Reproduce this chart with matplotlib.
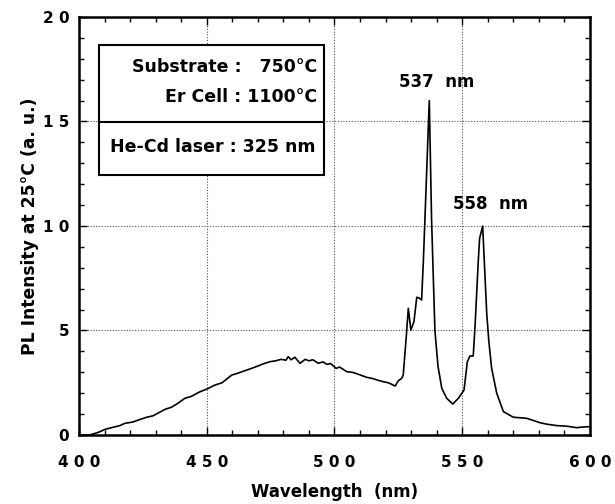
import matplotlib
matplotlib.use("Agg")
import matplotlib.pyplot as plt
from matplotlib.patches import Rectangle
from matplotlib.ticker import MultipleLocator

plt.rcParams['font.family'] = ['DejaVu Sans']
plt.rcParams['font.weight'] = 'bold'

wavelength = [400, 404, 405.6, 408, 410.2, 413, 416, 418, 421, 424, 426.5, 429, 431, 433.7, 436,
              438.5, 441.5, 444, 447, 450.6, 453, 456, 459.8, 462, 465, 467.6, 470, 472, 474.8,
              477, 479, 481, 481.9, 483, 484.5, 486.5, 488.5, 490, 491.5, 493.7, 495.5, 497,
              498.5, 500.6, 502, 504.8, 507, 509, 512.6, 515, 517, 519.1, 521, 522.5, 523.7,
              525, 526.3, 526.9, 528, 528.9, 529.9, 531.1, 532.2, 533.2, 534.1, 534.8, 535.6,
              537.1, 538.0, 539.3, 540.5, 542, 543.9, 546.3, 548.5, 550.7, 552, 553, 554.3, 555,
              556.3, 556.8, 558, 558.6, 559.6, 560.4, 561.5, 563.5, 566.1, 570, 575.2, 580.4,
              583, 587, 591, 594.8, 597, 600]
intensity = [0, 0, 0.05, 0.15, 0.27, 0.36, 0.45, 0.56, 0.62, 0.75, 0.85, 0.92, 1.05, 1.23, 1.32,
             1.5, 1.76, 1.85, 2.05, 2.23, 2.38, 2.5, 2.87, 2.95, 3.08, 3.19, 3.3, 3.4, 3.51,
             3.55, 3.62, 3.58, 3.75, 3.6, 3.72, 3.43, 3.62, 3.55, 3.6, 3.43, 3.5, 3.38,
             3.42, 3.19, 3.25, 3.03, 3.0, 2.92, 2.76, 2.7, 2.62, 2.55, 2.5, 2.42, 2.34,
             2.6, 2.71, 2.87, 4.55, 6.06, 5.02, 5.42, 6.59, 6.55, 6.46, 8.37, 11.0,
             16.0, 10.3, 5.02, 3.3, 2.23, 1.76, 1.48, 1.76, 2.15, 3.51, 3.78, 3.78, 5.18,
             8.37, 9.4, 10.0, 8.4, 5.8, 4.5, 3.2, 2.0, 1.12, 0.85, 0.8, 0.59,
             0.52, 0.45, 0.42, 0.35, 0.38, 0.4]
assert len(wavelength) == len(intensity)

xticks = [400, 450, 500, 550, 600]
xticklabels = ['4 0 0', '4 5 0', '5 0 0', '5 5 0', '6 0 0']
yticks = [0, 5, 10, 15, 20]
yticklabels = ['0', '5', '1 0', '1 5', '2 0']
peak_labels = [(540.0, 16.45, '537  nm'), (561.0, 10.6, '558  nm')]
box_lines_top = ['Substrate :   750°C', 'Er Cell : 1100°C']
box_line_bottom = 'He-Cd laser : 325 nm'

fig = plt.figure(figsize=(6.15, 5.04), dpi=100)
ax = fig.add_axes([0.1285, 0.1369, 0.9593 - 0.1285, 0.9663 - 0.1369])

ax.plot(wavelength, intensity, color='black', lw=1.2)
ax.set_xlim(400, 600)
ax.set_ylim(0, 20)
ax.set_xticks(xticks)
ax.set_xticklabels(xticklabels, fontsize=11, fontweight='bold')
ax.set_yticks(yticks)
ax.set_yticklabels(yticklabels, fontsize=11, fontweight='bold')
ax.xaxis.set_minor_locator(MultipleLocator(10))
ax.yaxis.set_minor_locator(MultipleLocator(1))
ax.tick_params(which='both', direction='in', top=True, right=True, width=1.0)
ax.tick_params(which='major', length=6)
ax.tick_params(which='minor', length=3.5)
ax.tick_params(axis='x', which='major', pad=14.5)
ax.tick_params(axis='y', which='major', pad=7)
for s in ax.spines.values():
    s.set_linewidth(1.8)
ax.grid(True, which='major', linestyle=(0, (1, 1.5)), color='#555555', lw=0.8)

ax.set_xlabel('Wavelength  (nm)', fontsize=12, fontweight='bold', labelpad=9.5)
ax.set_ylabel('PL Intensity at 25°C (a. u.)', fontsize=12.3, fontweight='bold', labelpad=2.5)

for x, y, t in peak_labels:
    ax.text(x, y, t, ha='center', va='bottom', fontsize=12, fontweight='bold')

# inset box
bx0, bx1 = (99 - 79) / 511, (324 - 79) / 511
by0, by1 = (435 - 175) / 418, (435 - 45) / 418
bmid = (435 - 122) / 418
ax.add_patch(Rectangle((bx0, by0), bx1 - bx0, by1 - by0, transform=ax.transAxes,
                       fill=True, facecolor='white', edgecolor='black', lw=1.5, zorder=5))
ax.plot([bx0, bx1], [bmid, bmid], transform=ax.transAxes, color='black', lw=1.5, zorder=6)
xr = (317 - 79) / 511
ax.text(xr, (435 - 66.7) / 418, box_lines_top[0], transform=ax.transAxes, ha='right',
        va='center', fontsize=12.5, fontweight='bold', zorder=7)
ax.text(xr, (435 - 96.7) / 418, box_lines_top[1], transform=ax.transAxes, ha='right',
        va='center', fontsize=12.5, fontweight='bold', zorder=7)
ax.text((bx0 + bx1) / 2 + 0.002, (435 - 146.7) / 418, box_line_bottom, transform=ax.transAxes,
        ha='center', va='center', fontsize=12.5, fontweight='bold', zorder=7)

fig.savefig('out.png', dpi=100)
